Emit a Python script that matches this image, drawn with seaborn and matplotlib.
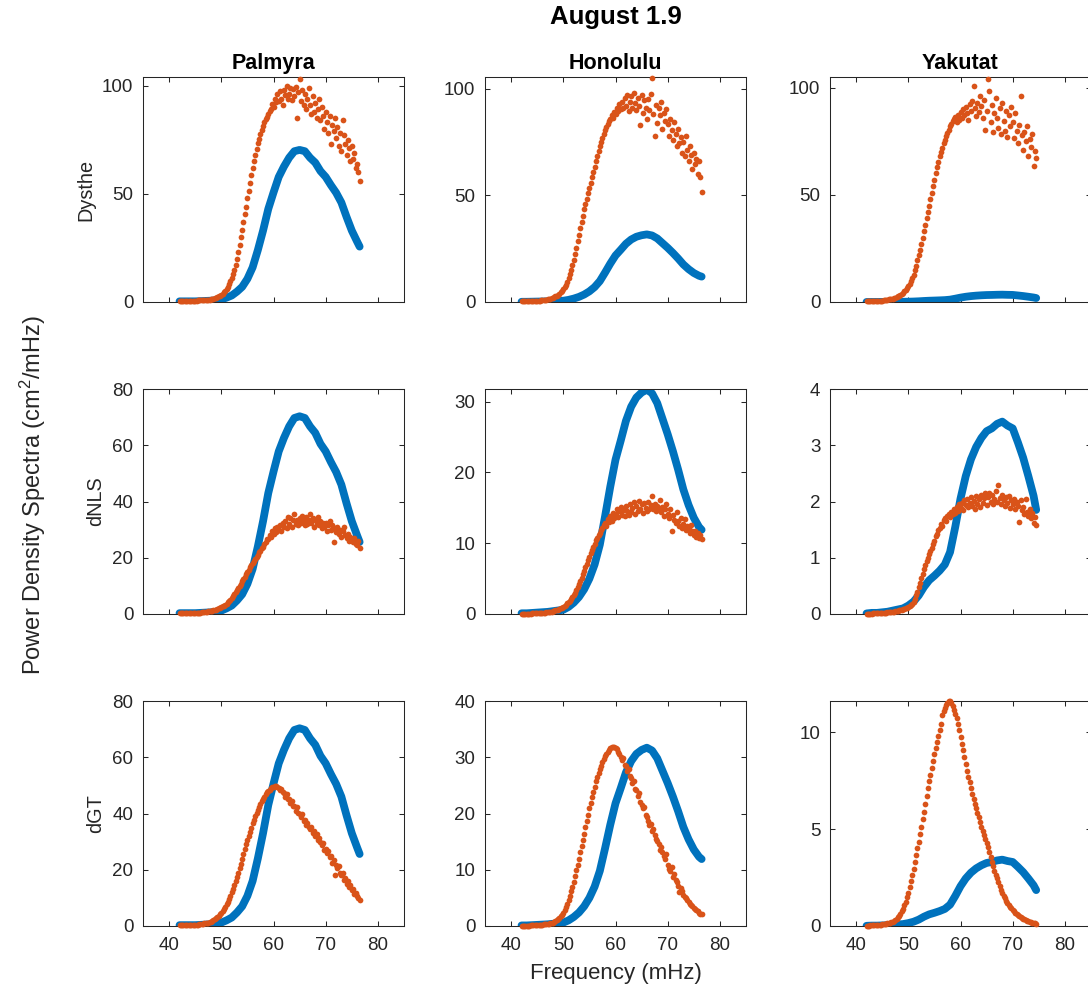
import numpy as np
import pandas as pd
import matplotlib
matplotlib.use("Agg")
import matplotlib.pyplot as plt
import seaborn as sns

# ---------------- data ----------------
stations = ["Palmyra", "Honolulu", "Yakutat"]
models = ["Dysthe", "dNLS", "dGT"]
main_title = "August 1.9"
x_label = "Frequency (mHz)"
y_label = r"Power Density Spectra (cm$^{\mathrm{2}}$/mHz)"
x_ticks = [40, 50, 60, 70, 80]

# blue (observed) spectra, 1 mHz sampling
freq_blue_long = [42, 43, 44, 45, 46, 47, 48, 49, 50, 51, 52, 53, 54, 55, 56, 57, 58, 59,
                  60, 61, 62, 63, 64, 65, 66, 67, 68, 69, 70, 71, 72, 73, 74, 75, 76, 76.5]
freq_blue_short = [42, 43, 44, 45, 46, 47, 48, 49, 50, 51, 52, 53, 54, 55, 56, 57, 58, 59,
                   60, 61, 62, 63, 64, 65, 66, 67, 68, 69, 70, 71, 72, 73, 74, 74.5]

blue_palmyra = [0.3, 0.3, 0.3, 0.3, 0.4, 0.5, 0.6, 0.8, 1.2, 2.0, 3.0, 4.8, 7.0, 10.7, 16.0, 24.0,
                33.0, 43.0, 50.6, 57.8, 62.6, 66.7, 69.7, 70.3, 69.7, 66.7, 64.4, 60.5, 57.8, 54.0,
                50.5, 46.0, 39.3, 33.0, 28.0, 25.6]
blue_honolulu = [0.1, 0.1, 0.15, 0.2, 0.25, 0.3, 0.4, 0.5, 0.6, 1.0, 1.6, 2.4, 3.5, 5.0, 7.0, 9.8,
                 13.8, 18.0, 21.8, 24.5, 27.3, 29.3, 30.6, 31.3, 31.7, 31.2, 29.8, 27.6, 25.4, 23.0,
                 20.4, 17.6, 15.4, 13.6, 12.3, 11.9]
blue_yakutat = [0.01, 0.02, 0.02, 0.03, 0.04, 0.06, 0.08, 0.1, 0.15, 0.22, 0.33, 0.48, 0.6, 0.68,
                0.77, 0.88, 1.1, 1.55, 2.05, 2.45, 2.75, 2.97, 3.13, 3.25, 3.3, 3.38, 3.42, 3.35,
                3.3, 3.05, 2.78, 2.45, 2.1, 1.85]

# orange (model) spectra, 0.25 mHz sampling grid
freq_dots_long = np.arange(42.0, 76.51, 0.25)    # 42 .. 76.5
freq_dots_short = np.arange(42.0, 74.51, 0.25)   # 42 .. 74.5

dysthe_palmyra = [
    0.3, 0.3, 0.3, 0.3, 0.3, 0.4, 0.4, 0.4, 0.4, 0.5, 0.5, 0.5, 0.6, 0.6, 0.7, 0.7,
    0.8, 0.8, 0.9, 0.9, 1.0, 1.0, 1.1, 1.1, 1.2, 1.4, 1.6, 1.8, 2.0, 2.3, 2.6, 3.0,
    3.4, 3.9, 4.5, 5.2, 6.0, 7.0, 8.2, 9.6, 11.2, 13.0, 15.0, 17.3, 20.0, 23.0, 26.5, 30.0,
    33.5, 37.0, 40.5, 44.0, 48.0, 51.5, 55.0, 58.5, 62.0, 65.0, 68.0, 70.5, 73.5, 75.5, 77.5, 79.5,
    81.5, 83.0, 84.5, 85.5, 87.0, 88.5, 89.0, 91.5, 90.0, 94.0, 92.5, 96.0, 93.0, 97.5, 94.0, 91.0,
    98.0, 95.5, 100.0, 94.0, 96.0, 99.0, 93.5, 98.5, 95.0, 99.5, 85.0, 97.0, 103.0, 93.0, 98.0, 91.0,
    96.0, 89.0, 94.0, 99.0, 91.0, 87.0, 95.0, 88.0, 92.0, 85.0, 89.0, 94.0, 84.0, 90.0, 86.0, 80.0,
    88.0, 83.0, 78.0, 86.0, 73.0, 82.0, 79.0, 85.0, 76.0, 81.0, 72.0, 78.0, 70.0, 84.0, 77.0, 73.0,
    68.0, 75.0, 71.0, 65.0, 72.0, 66.0, 69.0, 62.0, 64.0, 60.0, 56.0]
dnls_palmyra = [
    0.2, 0.2, 0.2, 0.2, 0.2, 0.2, 0.3, 0.3, 0.3, 0.3, 0.3, 0.4, 0.4, 0.4, 0.5, 0.5,
    0.5, 0.6, 0.6, 0.7, 0.7, 0.8, 0.9, 1.0, 1.1, 1.2, 1.3, 1.5, 1.6, 1.8, 2.0, 2.2,
    2.4, 2.7, 3.0, 3.3, 3.7, 4.1, 4.6, 5.1, 5.7, 6.3, 7.0, 7.7, 8.4, 9.2, 10.0, 10.8,
    11.6, 12.4, 13.3, 14.1, 15.0, 15.8, 16.6, 17.4, 18.2, 19.0, 19.6, 20.3, 21.0, 22.0, 22.5, 23.5,
    24.0, 25.0, 25.5, 26.8, 26.5, 28.0, 27.5, 29.5, 28.5, 30.5, 29.0, 31.0, 30.0, 31.5, 29.5, 32.5,
    31.0, 33.0, 30.5, 34.5, 32.0, 34.0, 31.0, 33.5, 35.5, 32.0, 33.5, 31.5, 34.0, 32.5, 35.0, 33.0,
    31.5, 34.5, 32.0, 33.5, 35.5, 32.5, 34.0, 31.0, 33.5, 32.0, 34.5, 31.5, 33.0, 30.5, 32.5, 31.0,
    32.5, 29.5, 31.5, 33.0, 30.0, 31.5, 25.5, 30.5, 29.0, 31.0, 28.5, 30.0, 27.5, 29.5, 31.0, 28.0,
    27.0, 28.5, 26.0, 27.5, 26.5, 25.5, 27.0, 25.0, 24.5, 26.0, 23.5]
dgt_palmyra = [
    0.2, 0.2, 0.2, 0.2, 0.2, 0.3, 0.3, 0.3, 0.3, 0.3, 0.4, 0.4, 0.4, 0.5, 0.5, 0.6,
    0.6, 0.7, 0.8, 0.9, 1.0, 1.1, 1.2, 1.4, 1.6, 1.8, 2.1, 2.4, 2.7, 3.1, 3.6, 4.1,
    4.7, 5.4, 6.1, 6.9, 7.8, 8.7, 9.7, 10.8, 12.0, 13.3, 14.6, 16.0, 17.5, 19.0, 20.6, 22.2,
    23.8, 25.5, 27.5, 29.0, 30.5, 32.0, 33.5, 35.0, 36.5, 37.8, 39.0, 40.2, 41.3, 42.4, 43.4, 44.3,
    45.2, 46.0, 46.8, 47.5, 48.0, 48.5, 49.0, 49.3, 49.6, 49.8, 49.7, 49.4, 49.0, 48.4, 48.8, 47.5,
    47.2, 46.0, 46.8, 45.2, 45.0, 43.8, 44.5, 42.6, 42.8, 41.0, 42.2, 40.3, 40.0, 38.8, 39.8, 37.5,
    37.8, 36.0, 36.8, 35.2, 34.5, 35.2, 33.0, 33.8, 32.0, 32.8, 30.5, 31.2, 30.0, 28.8, 29.5, 27.0,
    27.5, 25.8, 26.8, 24.5, 24.8, 22.5, 23.5, 18.0, 21.8, 20.5, 21.2, 19.0, 18.0, 19.0, 16.5, 17.2,
    15.0, 16.0, 13.8, 14.5, 12.8, 13.0, 11.5, 11.8, 10.5, 9.8, 9.2]

dysthe_honolulu = [
    0.3, 0.3, 0.3, 0.3, 0.3, 0.4, 0.4, 0.4, 0.4, 0.5, 0.5, 0.5, 0.6, 0.6, 0.7, 0.8,
    0.8, 0.9, 1.0, 1.1, 1.3, 1.4, 1.6, 1.8, 2.0, 2.3, 2.6, 3.0, 3.4, 3.9, 4.5, 5.2,
    6.0, 7.0, 8.2, 9.6, 11.2, 13.0, 15.0, 17.3, 19.8, 22.5, 25.5, 28.5, 31.5, 34.5, 37.5, 40.5,
    43.5, 46.0, 48.5, 51.0, 53.5, 56.0, 58.5, 61.0, 63.5, 66.0, 68.5, 71.0, 73.0, 75.0, 77.0, 78.8,
    80.5, 82.0, 83.5, 85.0, 86.0, 87.5, 86.5, 89.0, 88.0, 91.0, 89.5, 93.0, 90.5, 94.0, 91.0, 95.5,
    92.0, 97.0, 89.5, 94.0, 96.5, 91.0, 98.0, 93.5, 90.0, 95.5, 92.0, 83.0, 97.0, 88.5, 94.5, 91.0,
    86.0, 95.0, 90.0, 97.5, 105.0, 88.0, 78.0, 92.5, 84.0, 91.0, 87.5, 94.0, 81.0, 88.5, 85.0, 90.5,
    83.5, 78.0, 86.0, 80.5, 76.0, 84.5, 79.0, 73.0, 81.0, 74.5, 77.5, 70.0, 75.0, 68.5, 78.0, 71.5,
    66.0, 73.0, 69.0, 62.5, 70.0, 64.5, 67.0, 60.0, 66.0, 58.5, 51.5]
dnls_honolulu = [
    0.05, 0.05, 0.05, 0.05, 0.06, 0.06, 0.07, 0.07, 0.08, 0.09, 0.1, 0.1, 0.1, 0.12, 0.13, 0.15,
    0.16, 0.18, 0.2, 0.22, 0.25, 0.28, 0.31, 0.35, 0.4, 0.45, 0.5, 0.56, 0.63, 0.7, 0.8, 0.9,
    1.0, 1.15, 1.3, 1.5, 1.7, 1.9, 2.1, 2.4, 2.7, 3.0, 3.4, 3.8, 4.2, 4.6, 5.1, 5.6,
    6.1, 6.6, 7.1, 7.6, 8.1, 8.6, 9.1, 9.5, 9.9, 10.4, 10.7, 11.2, 11.5, 11.9, 12.2, 12.6,
    12.9, 12.4, 13.4, 13.0, 13.8, 13.2, 14.3, 13.6, 14.1, 14.8, 13.7, 14.5, 15.1, 14.0, 14.7, 13.8,
    15.3, 14.5, 14.0, 15.6, 14.4, 15.0, 15.8, 14.2, 15.2, 14.6, 16.0, 14.8, 15.5, 14.3, 15.7, 15.0,
    14.6, 15.9, 14.8, 15.4, 16.7, 14.9, 15.6, 14.5, 15.3, 14.7, 16.1, 14.4, 15.1, 13.9, 14.8, 15.6,
    14.2, 13.5, 14.9, 11.8, 14.0, 13.3, 12.8, 14.4, 13.1, 12.5, 13.6, 12.2, 12.7, 13.4, 11.9, 12.4,
    12.0, 11.4, 12.6, 11.7, 11.2, 11.8, 10.9, 11.5, 10.7, 11.2, 10.6]
dgt_honolulu = [
    0.05, 0.05, 0.06, 0.06, 0.07, 0.07, 0.08, 0.09, 0.1, 0.11, 0.12, 0.14, 0.15, 0.17, 0.19, 0.21,
    0.24, 0.27, 0.3, 0.34, 0.38, 0.43, 0.49, 0.55, 0.62, 0.72, 0.84, 1.0, 1.2, 1.4, 1.7, 2.0,
    2.4, 2.9, 3.4, 4.0, 4.7, 5.4, 6.2, 7.0, 7.9, 8.9, 9.9, 10.9, 12.0, 13.1, 14.2, 15.3,
    16.4, 17.6, 18.7, 19.8, 20.9, 21.9, 22.9, 23.9, 24.8, 25.7, 26.5, 27.2, 27.9, 28.5, 29.1, 29.7,
    30.2, 30.6, 31.0, 31.3, 31.6, 31.8, 31.9, 31.9, 31.7, 31.4, 31.0, 30.6, 30.1, 29.6, 29.8, 28.7,
    28.4, 27.5, 27.9, 26.6, 26.4, 25.4, 25.8, 24.4, 24.1, 23.2, 23.6, 22.0, 21.6, 20.9, 21.2, 19.8,
    19.4, 18.7, 17.9, 18.2, 16.9, 17.3, 16.2, 15.5, 15.2, 14.6, 13.5, 14.0, 13.2, 12.4, 11.9, 12.8,
    10.9, 10.2, 9.8, 10.5, 8.8, 9.2, 8.1, 7.8, 7.2, 6.1, 6.8, 6.3, 5.6, 5.2, 4.9, 4.6,
    4.3, 4.0, 3.7, 3.5, 3.2, 3.0, 2.8, 2.6, 2.4, 2.2, 2.1]

dysthe_yakutat = [
    0.3, 0.3, 0.3, 0.4, 0.4, 0.4, 0.5, 0.5, 0.5, 0.6, 0.6, 0.7, 0.7, 0.8, 0.9, 1.0,
    1.1, 1.2, 1.3, 1.5, 1.6, 1.8, 2.0, 2.3, 2.6, 3.0, 3.4, 3.9, 4.4, 5.0, 5.7, 6.5,
    7.5, 8.6, 9.8, 11.2, 12.8, 14.8, 17.0, 19.5, 22.0, 24.5, 27.3, 30.0, 33.0, 36.0, 39.0, 42.0,
    45.0, 48.0, 51.0, 54.0, 57.0, 60.0, 63.0, 65.5, 68.0, 70.0, 72.0, 74.0, 75.5, 77.5, 79.0, 80.5,
    82.0, 83.0, 84.5, 85.5, 86.5, 84.0, 87.5, 85.0, 88.5, 86.0, 90.0, 87.5, 91.0, 88.0, 85.0, 92.5,
    89.0, 94.0, 101.0, 90.5, 87.0, 93.0, 88.5, 96.0, 91.5, 86.0, 94.5, 80.5, 89.0, 104.0, 98.5, 84.0,
    92.0, 79.5, 88.0, 95.0, 86.0, 81.0, 90.5, 78.5, 93.0, 84.5, 80.0, 89.0, 77.0, 87.5, 82.0, 91.0,
    84.0, 76.5, 88.0, 80.0, 74.0, 82.5, 96.0, 78.0, 71.0, 79.5, 75.0, 82.0, 68.0, 76.0, 72.5, 78.5,
    63.5, 70.5, 67.0]
dnls_yakutat = [
    0.005, 0.005, 0.006, 0.007, 0.008, 0.009, 0.01, 0.011, 0.012, 0.014, 0.016, 0.018, 0.02, 0.022, 0.024, 0.026,
    0.028, 0.03, 0.033, 0.036, 0.04, 0.044, 0.048, 0.053, 0.058, 0.064, 0.07, 0.077, 0.085, 0.094, 0.104, 0.115,
    0.127, 0.14, 0.16, 0.18, 0.21, 0.26, 0.33, 0.4, 0.48, 0.56, 0.64, 0.72, 0.8, 0.87, 0.94, 1.0,
    1.06, 1.12, 1.18, 1.24, 1.3, 1.38, 1.42, 1.5, 1.53, 1.6, 1.57, 1.67, 1.7, 1.65, 1.75, 1.78,
    1.72, 1.82, 1.78, 1.86, 1.8, 1.9, 1.84, 1.95, 1.88, 1.98, 1.85, 2.02, 1.93, 2.05, 1.9, 1.98,
    2.08, 1.92, 2.01, 1.87, 2.1, 1.95, 2.04, 1.9, 2.12, 1.98, 2.06, 2.15, 1.94, 2.08, 2.16, 2.0,
    2.11, 1.96, 2.05, 2.18, 2.0, 2.3, 2.07, 1.95, 2.12, 2.02, 1.92, 2.08, 1.98, 2.1, 1.88, 2.03,
    1.95, 2.05, 1.86, 1.99, 1.92, 1.63, 2.02, 1.85, 1.9, 1.78, 2.05, 1.82, 1.74, 1.86, 1.7, 1.8,
    1.62, 1.72, 1.58]
dgt_yakutat = [
    0.02, 0.02, 0.02, 0.03, 0.03, 0.03, 0.04, 0.04, 0.05, 0.05, 0.06, 0.07, 0.08, 0.09, 0.1, 0.11,
    0.13, 0.15, 0.17, 0.2, 0.23, 0.27, 0.32, 0.38, 0.45, 0.54, 0.64, 0.76, 0.9, 1.06, 1.25, 1.47,
    1.72, 2.0, 2.3, 2.62, 2.95, 3.3, 3.65, 4.0, 4.35, 4.72, 5.1, 5.5, 5.9, 6.3, 6.7, 7.1,
    7.45, 7.8, 8.15, 8.5, 8.85, 9.2, 9.5, 9.8, 10.1, 10.4, 10.9, 11.1, 11.25, 11.4, 11.5, 11.58,
    11.6, 11.5, 11.35, 11.15, 10.95, 10.7, 10.4, 10.1, 9.75, 9.4, 9.05, 8.7, 8.35, 8.0, 7.7, 7.4,
    7.1, 6.8, 6.55, 6.3, 6.1, 5.85, 5.6, 5.35, 5.1, 4.9, 4.7, 4.5, 4.3, 4.05, 3.8, 3.55,
    3.3, 3.08, 2.86, 2.65, 2.45, 2.25, 2.05, 1.87, 1.7, 1.55, 1.42, 1.3, 1.2, 1.1, 1.0, 0.92,
    0.82, 0.75, 0.68, 0.62, 0.56, 0.51, 0.46, 0.42, 0.38, 0.34, 0.31, 0.28, 0.25, 0.22, 0.2, 0.18,
    0.16, 0.14, 0.12]

# axis limits / ticks per panel (rows: models, cols: stations)
y_tops = [[104, 105.5, 105], [80, 31.8, 4], [80, 40, 11.6]]
y_ticks = [[[0, 50, 100], [0, 50, 100], [0, 50, 100]],
           [[0, 20, 40, 60, 80], [0, 10, 20, 30], [0, 1, 2, 3, 4]],
           [[0, 20, 40, 60, 80], [0, 10, 20, 30, 40], [0, 5, 10]]]

blue_by_station = {"Palmyra": (freq_blue_long, blue_palmyra),
                   "Honolulu": (freq_blue_long, blue_honolulu),
                   "Yakutat": (freq_blue_short, blue_yakutat)}
dots_by_panel = {("Dysthe", "Palmyra"): (freq_dots_long, dysthe_palmyra),
                 ("dNLS", "Palmyra"): (freq_dots_long, dnls_palmyra),
                 ("dGT", "Palmyra"): (freq_dots_long, dgt_palmyra),
                 ("Dysthe", "Honolulu"): (freq_dots_long, dysthe_honolulu),
                 ("dNLS", "Honolulu"): (freq_dots_long, dnls_honolulu),
                 ("dGT", "Honolulu"): (freq_dots_long, dgt_honolulu),
                 ("Dysthe", "Yakutat"): (freq_dots_short, dysthe_yakutat),
                 ("dNLS", "Yakutat"): (freq_dots_short, dnls_yakutat),
                 ("dGT", "Yakutat"): (freq_dots_short, dgt_yakutat)}

# ---------------- style ----------------
sns.set_style("ticks")
plt.rcParams["font.family"] = ["Liberation Sans", "DejaVu Sans"]
plt.rcParams["mathtext.fontset"] = "custom"
plt.rcParams["mathtext.rm"] = "Liberation Sans"
plt.rcParams["mathtext.it"] = "Liberation Sans:italic"

BLUE = "#0072BD"
ORANGE = "#D95319"
DARK = "#262626"

W_PX, H_PX = 1088, 991
fig = plt.figure(figsize=(W_PX / 100, H_PX / 100), dpi=100)
col_left = [143, 485, 830]
row_top = [77, 389, 701]
ax_w, ax_h = 261, 225

for i, model in enumerate(models):
    for j, st in enumerate(stations):
        ax = fig.add_axes([col_left[j] / W_PX, 1 - (row_top[i] + ax_h) / H_PX,
                           ax_w / W_PX, ax_h / H_PX])
        bf, bv = blue_by_station[st]
        df_b = pd.DataFrame({"f": bf, "p": bv})
        sns.lineplot(data=df_b, x="f", y="p", ax=ax, color=BLUE, linewidth=5.6,
                     estimator=None, sort=False, zorder=2)
        df_f, df_v = dots_by_panel[(model, st)]
        df_o = pd.DataFrame({"f": df_f, "p": df_v})
        sns.scatterplot(data=df_o, x="f", y="p", ax=ax, color=ORANGE, s=17,
                        linewidth=0, clip_on=False, zorder=3)
        ax.set_xlim(35, 85)
        ax.set_ylim(0, y_tops[i][j])
        ax.set_xticks(x_ticks)
        ax.set_yticks(y_ticks[i][j])
        ax.set_xlabel("")
        ax.set_ylabel("")
        for sp in ax.spines.values():
            sp.set_visible(True)
            sp.set_color(DARK)
            sp.set_linewidth(0.75)
        ax.tick_params(axis="both", direction="in", length=3.5, width=0.75,
                       top=True, right=True, colors=DARK, labelsize=13.5)
        ax.tick_params(axis="y", pad=7)
        ax.tick_params(axis="x", pad=8)
        if i < 2:
            ax.tick_params(axis="x", labelbottom=False)
        if i == 0:
            ax.set_title(st, fontsize=15.5, fontweight="bold", color="black", pad=6)
        if j == 0:
            ax.set_ylabel(model, fontsize=14.3, color=DARK, labelpad=5)

fig.text(616 / W_PX, 1 - 17 / H_PX, main_title, ha="center", va="center",
         fontsize=18.5, fontweight="bold", color="black")
fig.text(616 / W_PX, 1 - 973 / H_PX, x_label, ha="center", va="center",
         fontsize=16, color=DARK)
fig.text(33 / W_PX, 1 - 495 / H_PX, y_label, ha="center", va="center",
         rotation=90, fontsize=17, color=DARK)

fig.savefig("out.png", dpi=100)
